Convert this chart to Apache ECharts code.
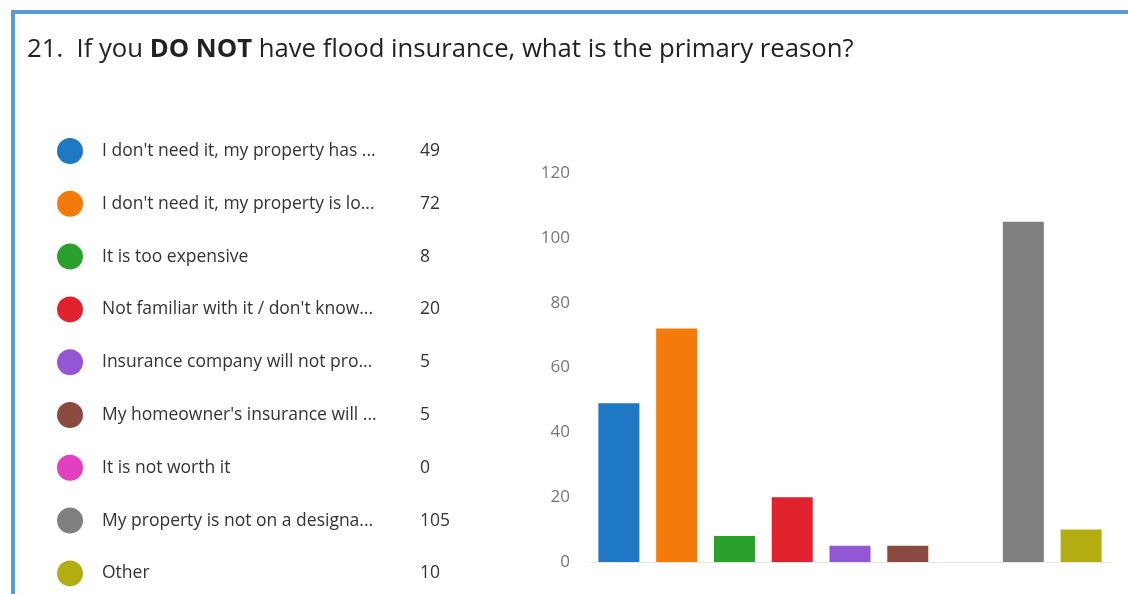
<!DOCTYPE html>
<html>
<head>
<meta charset="utf-8">
<script src="https://cdn.jsdelivr.net/npm/echarts@6/dist/echarts.min.js"></script>
<style>
  html, body { margin: 0; padding: 0; background: #fff; }
  #chart { width: 1128px; height: 594px; }
</style>
</head>
<body>
<div id="chart"></div>
<script>
// answers as shown (truncated like the survey export)
const categories = [
  "I don't need it, my property has ...",
  "I don't need it, my property is lo...",
  "It is too expensive",
  "Not familiar with it / don't know...",
  "Insurance company will not pro...",
  "My homeowner's insurance will ...",
  "It is not worth it",
  "My property is not on a designa...",
  "Other"
];
const counts = [49, 72, 8, 20, 5, 5, 0, 105, 10];
const colors = ['#1f78c4', '#f57a0c', '#2ca02c', '#e0222e', '#9457d4', '#8b4a40', '#e13ec0', '#7f7f7f', '#b3ad12'];
const yTicks = { min: 0, max: 120, interval: 20 };

let myChart = echarts.init(document.getElementById('chart'));

let series = categories.map(function (name, i) {
  return {
    name: name,
    type: 'bar',
    stack: 'all',
    barWidth: '71%',
    itemStyle: { color: colors[i] },
    data: categories.map(function (c, j) { return j === i ? counts[i] : null; })
  };
});

myChart.setOption({
  animation: false,
  textStyle: { fontFamily: 'Open Sans' },
  title: {
    left: 22,
    top: 32,
    text: '{n|21.  If you }{b|DO NOT}{n| have flood insurance, what is the primary reason?}',
    textStyle: {
      fontWeight: 'normal',
      rich: {
        n: { fontSize: 25.7, color: '#222', fontWeight: 'normal', fontFamily: 'Open Sans' },
        b: { fontSize: 25.7, color: '#222', fontWeight: 'bold', fontFamily: 'Open Sans' }
      }
    }
  },
  graphic: [{
    type: 'polyline',
    shape: { points: [[13, 594], [13, 12], [1128, 12]] },
    style: { stroke: '#5b9bd5', lineWidth: 4, fill: null }
  }],
  legend: {
    orient: 'vertical',
    left: 57,
    top: 138,
    height: 450,
    padding: 0,
    icon: 'circle',
    itemWidth: 26,
    itemHeight: 26,
    itemGap: 26.8,
    data: categories,
    formatter: function (name) {
      return '{t|' + name + '}{v|' + counts[categories.indexOf(name)] + '}';
    },
    textStyle: {
      padding: [0, 0, 0, 14],
      rich: {
        t: { width: 318, fontSize: 17.5, color: '#333', fontFamily: 'Open Sans' },
        v: { fontSize: 17.5, color: '#333', fontFamily: 'Open Sans' }
      }
    }
  },
  grid: {
    left: 590,
    right: 18,
    top: 173,
    bottom: 32
  },
  xAxis: {
    type: 'category',
    data: categories,
    axisTick: { show: false },
    axisLabel: { show: false },
    axisLine: { lineStyle: { color: '#e6e6e6' } }
  },
  yAxis: {
    type: 'value',
    min: yTicks.min,
    max: yTicks.max,
    interval: yTicks.interval,
    splitLine: { show: false },
    axisLabel: {
      color: '#777',
      fontSize: 17,
      margin: 20,
      fontFamily: 'Open Sans'
    }
  },
  series: series
});
</script>
</body>
</html>
